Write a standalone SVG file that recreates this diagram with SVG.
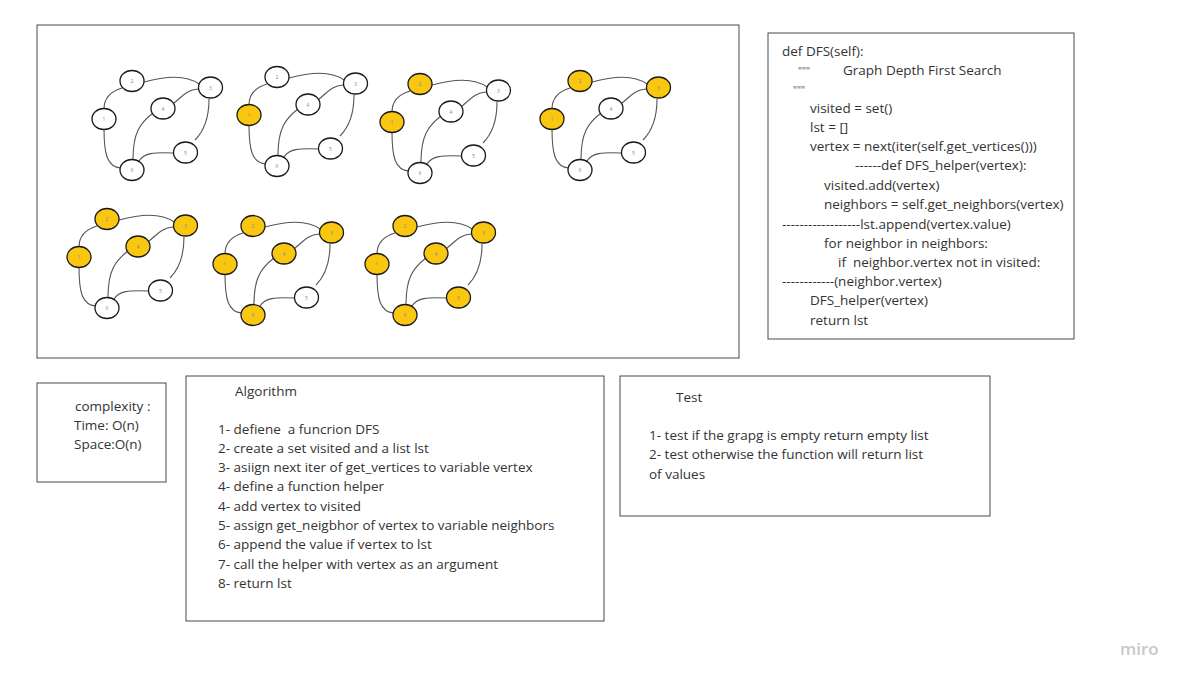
<svg xmlns="http://www.w3.org/2000/svg" width="1185" height="683" viewBox="0 0 1185 683">
<style>
.box{fill:#fff;stroke:#4a4a4a;stroke-width:1}
.t{font-family:"Open Sans","Liberation Sans",sans-serif;font-size:13.5px;fill:#333}
.q{font-family:"Open Sans","Liberation Sans",sans-serif;font-size:10px;fill:#555}
.e{fill:none;stroke:#555;stroke-width:1.1}
.n{fill:#fff;stroke:#1a1a1a;stroke-width:1.3}
.y{fill:#fac710;stroke:#1a1a1a;stroke-width:1.3}
.l{font-family:"Open Sans","Liberation Sans",sans-serif;font-size:5px;fill:#888;text-anchor:middle}
</style>
<rect width="1185" height="683" fill="#fff"/>
<g id="frame"><rect class="box" x="37" y="25" width="702" height="333"/></g>

<!-- Graph 1 -->
<g id="graph1" transform="translate(104,119)">
<g class="connectors"><path class="e" d="M0,-10 C0,-22 8,-28 18,-31"/><path class="e" d="M40,-37 C58,-42 80,-46 95,-35"/><path class="e" d="M94,-30 C82,-29 78,-22 70,-16"/><path class="e" d="M105,-20 C105,0 100,12 91,21"/><path class="e" d="M49,-6 C36,4 29,14 29,40"/><path class="e" d="M70,34 C50,33 40,34 35,42"/><path class="e" d="M0,10 C0,35 3,48 17,49"/></g>
<g id="g1-n1"><ellipse class="n" cx="0" cy="0" rx="12" ry="10.5"/><text class="l" x="0" y="2">1</text></g>
<g id="g1-n2"><ellipse class="n" cx="28" cy="-38" rx="12" ry="10.5"/><text class="l" x="28" y="-36">2</text></g>
<g id="g1-n3"><ellipse class="n" cx="106.5" cy="-31.5" rx="12" ry="10.5"/><text class="l" x="106.5" y="-29.5">3</text></g>
<g id="g1-n4"><ellipse class="n" cx="59" cy="-10.5" rx="12" ry="10.5"/><text class="l" x="59" y="-8.5">4</text></g>
<g id="g1-n5"><ellipse class="n" cx="81.5" cy="33.5" rx="12" ry="10.5"/><text class="l" x="81.5" y="35.5">5</text></g>
<g id="g1-n6"><ellipse class="n" cx="28" cy="51" rx="12" ry="10.5"/><text class="l" x="28" y="53">6</text></g>
</g>

<!-- Graph 2 -->
<g id="graph2" transform="translate(249,115)">
<g class="connectors"><path class="e" d="M0,-10 C0,-22 8,-28 18,-31"/><path class="e" d="M40,-37 C58,-42 80,-46 95,-35"/><path class="e" d="M94,-30 C82,-29 78,-22 70,-16"/><path class="e" d="M105,-20 C105,0 100,12 91,21"/><path class="e" d="M49,-6 C36,4 29,14 29,40"/><path class="e" d="M70,34 C50,33 40,34 35,42"/><path class="e" d="M0,10 C0,35 3,48 17,49"/></g>
<g id="g2-n1"><ellipse class="y" cx="0" cy="0" rx="12" ry="10.5"/><text class="l" x="0" y="2">1</text></g>
<g id="g2-n2"><ellipse class="n" cx="28" cy="-38" rx="12" ry="10.5"/><text class="l" x="28" y="-36">2</text></g>
<g id="g2-n3"><ellipse class="n" cx="106.5" cy="-31.5" rx="12" ry="10.5"/><text class="l" x="106.5" y="-29.5">3</text></g>
<g id="g2-n4"><ellipse class="n" cx="59" cy="-10.5" rx="12" ry="10.5"/><text class="l" x="59" y="-8.5">4</text></g>
<g id="g2-n5"><ellipse class="n" cx="81.5" cy="33.5" rx="12" ry="10.5"/><text class="l" x="81.5" y="35.5">5</text></g>
<g id="g2-n6"><ellipse class="n" cx="28" cy="51" rx="12" ry="10.5"/><text class="l" x="28" y="53">6</text></g>
</g>

<!-- Graph 3 -->
<g id="graph3" transform="translate(392,122)">
<g class="connectors"><path class="e" d="M0,-10 C0,-22 8,-28 18,-31"/><path class="e" d="M40,-37 C58,-42 80,-46 95,-35"/><path class="e" d="M94,-30 C82,-29 78,-22 70,-16"/><path class="e" d="M105,-20 C105,0 100,12 91,21"/><path class="e" d="M49,-6 C36,4 29,14 29,40"/><path class="e" d="M70,34 C50,33 40,34 35,42"/><path class="e" d="M0,10 C0,35 3,48 17,49"/></g>
<g id="g3-n1"><ellipse class="y" cx="0" cy="0" rx="12" ry="10.5"/><text class="l" x="0" y="2">1</text></g>
<g id="g3-n2"><ellipse class="y" cx="28" cy="-38" rx="12" ry="10.5"/><text class="l" x="28" y="-36">2</text></g>
<g id="g3-n3"><ellipse class="n" cx="106.5" cy="-31.5" rx="12" ry="10.5"/><text class="l" x="106.5" y="-29.5">3</text></g>
<g id="g3-n4"><ellipse class="n" cx="59" cy="-10.5" rx="12" ry="10.5"/><text class="l" x="59" y="-8.5">4</text></g>
<g id="g3-n5"><ellipse class="n" cx="81.5" cy="33.5" rx="12" ry="10.5"/><text class="l" x="81.5" y="35.5">5</text></g>
<g id="g3-n6"><ellipse class="n" cx="28" cy="51" rx="12" ry="10.5"/><text class="l" x="28" y="53">6</text></g>
</g>

<!-- Graph 4 -->
<g id="graph4" transform="translate(552,119)">
<g class="connectors"><path class="e" d="M0,-10 C0,-22 8,-28 18,-31"/><path class="e" d="M40,-37 C58,-42 80,-46 95,-35"/><path class="e" d="M94,-30 C82,-29 78,-22 70,-16"/><path class="e" d="M105,-20 C105,0 100,12 91,21"/><path class="e" d="M49,-6 C36,4 29,14 29,40"/><path class="e" d="M70,34 C50,33 40,34 35,42"/><path class="e" d="M0,10 C0,35 3,48 17,49"/></g>
<g id="g4-n1"><ellipse class="y" cx="0" cy="0" rx="12" ry="10.5"/><text class="l" x="0" y="2">1</text></g>
<g id="g4-n2"><ellipse class="y" cx="28" cy="-38" rx="12" ry="10.5"/><text class="l" x="28" y="-36">2</text></g>
<g id="g4-n3"><ellipse class="y" cx="106.5" cy="-31.5" rx="12" ry="10.5"/><text class="l" x="106.5" y="-29.5">3</text></g>
<g id="g4-n4"><ellipse class="n" cx="59" cy="-10.5" rx="12" ry="10.5"/><text class="l" x="59" y="-8.5">4</text></g>
<g id="g4-n5"><ellipse class="n" cx="81.5" cy="33.5" rx="12" ry="10.5"/><text class="l" x="81.5" y="35.5">5</text></g>
<g id="g4-n6"><ellipse class="n" cx="28" cy="51" rx="12" ry="10.5"/><text class="l" x="28" y="53">6</text></g>
</g>

<!-- Graph 5 -->
<g id="graph5" transform="translate(79,257)">
<g class="connectors"><path class="e" d="M0,-10 C0,-22 8,-28 18,-31"/><path class="e" d="M40,-37 C58,-42 80,-46 95,-35"/><path class="e" d="M94,-30 C82,-29 78,-22 70,-16"/><path class="e" d="M105,-20 C105,0 100,12 91,21"/><path class="e" d="M49,-6 C36,4 29,14 29,40"/><path class="e" d="M70,34 C50,33 40,34 35,42"/><path class="e" d="M0,10 C0,35 3,48 17,49"/></g>
<g id="g5-n1"><ellipse class="y" cx="0" cy="0" rx="12" ry="10.5"/><text class="l" x="0" y="2">1</text></g>
<g id="g5-n2"><ellipse class="y" cx="28" cy="-38" rx="12" ry="10.5"/><text class="l" x="28" y="-36">2</text></g>
<g id="g5-n3"><ellipse class="y" cx="106.5" cy="-31.5" rx="12" ry="10.5"/><text class="l" x="106.5" y="-29.5">3</text></g>
<g id="g5-n4"><ellipse class="y" cx="59" cy="-10.5" rx="12" ry="10.5"/><text class="l" x="59" y="-8.5">4</text></g>
<g id="g5-n5"><ellipse class="n" cx="81.5" cy="33.5" rx="12" ry="10.5"/><text class="l" x="81.5" y="35.5">5</text></g>
<g id="g5-n6"><ellipse class="n" cx="28" cy="51" rx="12" ry="10.5"/><text class="l" x="28" y="53">6</text></g>
</g>

<!-- Graph 6 -->
<g id="graph6" transform="translate(225,264)">
<g class="connectors"><path class="e" d="M0,-10 C0,-22 8,-28 18,-31"/><path class="e" d="M40,-37 C58,-42 80,-46 95,-35"/><path class="e" d="M94,-30 C82,-29 78,-22 70,-16"/><path class="e" d="M105,-20 C105,0 100,12 91,21"/><path class="e" d="M49,-6 C36,4 29,14 29,40"/><path class="e" d="M70,34 C50,33 40,34 35,42"/><path class="e" d="M0,10 C0,35 3,48 17,49"/></g>
<g id="g6-n1"><ellipse class="y" cx="0" cy="0" rx="12" ry="10.5"/><text class="l" x="0" y="2">1</text></g>
<g id="g6-n2"><ellipse class="y" cx="28" cy="-38" rx="12" ry="10.5"/><text class="l" x="28" y="-36">2</text></g>
<g id="g6-n3"><ellipse class="y" cx="106.5" cy="-31.5" rx="12" ry="10.5"/><text class="l" x="106.5" y="-29.5">3</text></g>
<g id="g6-n4"><ellipse class="y" cx="59" cy="-10.5" rx="12" ry="10.5"/><text class="l" x="59" y="-8.5">4</text></g>
<g id="g6-n5"><ellipse class="n" cx="81.5" cy="33.5" rx="12" ry="10.5"/><text class="l" x="81.5" y="35.5">5</text></g>
<g id="g6-n6"><ellipse class="y" cx="28" cy="51" rx="12" ry="10.5"/><text class="l" x="28" y="53">6</text></g>
</g>

<!-- Graph 7 -->
<g id="graph7" transform="translate(377,264)">
<g class="connectors"><path class="e" d="M0,-10 C0,-22 8,-28 18,-31"/><path class="e" d="M40,-37 C58,-42 80,-46 95,-35"/><path class="e" d="M94,-30 C82,-29 78,-22 70,-16"/><path class="e" d="M105,-20 C105,0 100,12 91,21"/><path class="e" d="M49,-6 C36,4 29,14 29,40"/><path class="e" d="M70,34 C50,33 40,34 35,42"/><path class="e" d="M0,10 C0,35 3,48 17,49"/></g>
<g id="g7-n1"><ellipse class="y" cx="0" cy="0" rx="12" ry="10.5"/><text class="l" x="0" y="2">1</text></g>
<g id="g7-n2"><ellipse class="y" cx="28" cy="-38" rx="12" ry="10.5"/><text class="l" x="28" y="-36">2</text></g>
<g id="g7-n3"><ellipse class="y" cx="106.5" cy="-31.5" rx="12" ry="10.5"/><text class="l" x="106.5" y="-29.5">3</text></g>
<g id="g7-n4"><ellipse class="y" cx="59" cy="-10.5" rx="12" ry="10.5"/><text class="l" x="59" y="-8.5">4</text></g>
<g id="g7-n5"><ellipse class="y" cx="81.5" cy="33.5" rx="12" ry="10.5"/><text class="l" x="81.5" y="35.5">5</text></g>
<g id="g7-n6"><ellipse class="y" cx="28" cy="51" rx="12" ry="10.5"/><text class="l" x="28" y="53">6</text></g>
</g>

<!-- Code box -->
<g id="code">
<rect class="box" x="768" y="33" width="306" height="306"/>
<text class="t" x="782" y="56">def DFS(self):</text>
<text class="q" x="798" y="74.5">"""</text>
<text class="t" x="843" y="75">Graph Depth First Search</text>
<text class="q" x="793" y="93.5">"""</text>
<text class="t" x="810" y="113">visited = set()</text>
<text class="t" x="810" y="132">lst = []</text>
<text class="t" x="810" y="151">vertex = next(iter(self.get_vertices()))</text>
<text class="t" x="855" y="170">------def DFS_helper(vertex):</text>
<text class="t" x="824" y="190">visited.add(vertex)</text>
<text class="t" x="824" y="209">neighbors = self.get_neighbors(vertex)</text>
<text class="t" x="782" y="229">------------------lst.append(vertex.value)</text>
<text class="t" x="824" y="248">for neighbor in neighbors:</text>
<text class="t" x="838" y="267" xml:space="preserve">if  neighbor.vertex not in visited:</text>
<text class="t" x="782" y="286">------------(neighbor.vertex)</text>
<text class="t" x="810" y="305">DFS_helper(vertex)</text>
<text class="t" x="810" y="325">return lst</text>
</g>

<!-- Complexity box -->
<g id="complexity">
<rect class="box" x="37" y="383" width="129" height="99"/>
<text class="t" x="75" y="410.5">complexity :</text>
<text class="t" x="74" y="429.5">Time: O(n)</text>
<text class="t" x="74" y="448.5">Space:O(n)</text>
</g>

<!-- Algorithm box -->
<g id="algorithm">
<rect class="box" x="186" y="376" width="418" height="245"/>
<text class="t" x="235" y="396">Algorithm</text>
<text class="t" x="218" y="433.5" xml:space="preserve">1- defiene  a funcrion DFS</text>
<text class="t" x="218" y="452.8">2- create a set visited and a list lst</text>
<text class="t" x="218" y="472.1">3- asiign next iter of get_vertices to variable vertex</text>
<text class="t" x="218" y="491.4">4- define a function helper</text>
<text class="t" x="218" y="510.7">4- add vertex to visited</text>
<text class="t" x="218" y="530">5- assign get_neigbhor of vertex to variable neighbors</text>
<text class="t" x="218" y="549.3">6- append the value if vertex to lst</text>
<text class="t" x="218" y="568.6">7- call the helper with vertex as an argument</text>
<text class="t" x="218" y="587.9">8- return lst</text>
</g>

<!-- Test box -->
<g id="test">
<rect class="box" x="620" y="376" width="370" height="140"/>
<text class="t" x="676" y="401.5">Test</text>
<text class="t" x="649" y="439.5">1- test if the grapg is empty return empty list</text>
<text class="t" x="649" y="459">2- test otherwise the function will return list</text>
<text class="t" x="649" y="478.5">of values</text>
</g>

<text x="1120" y="655" font-family="'Open Sans','Liberation Sans',sans-serif" font-size="17" font-weight="600" fill="#c8c8cc">miro</text>
</svg>
